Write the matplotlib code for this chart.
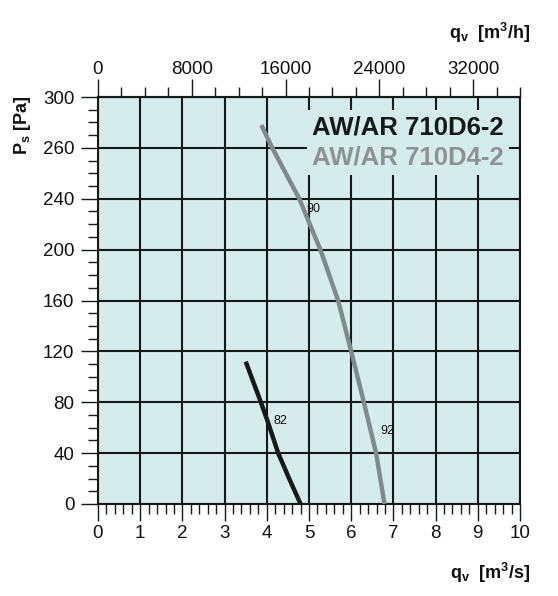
import matplotlib
matplotlib.use("Agg")
import matplotlib.pyplot as plt
from matplotlib.ticker import MultipleLocator, FixedLocator, FixedFormatter
from matplotlib.lines import Line2D

# ---- data ----
q_d6 = [3.50, 3.86, 4.02, 4.27, 4.53, 4.80]
p_d6 = [112, 80, 65, 40, 20, 0]
q_d4 = [3.87, 4.13, 4.77, 5.27, 5.69, 6.00, 6.30, 6.59, 6.79]
p_d4 = [298, 280, 240, 200, 160, 120, 80, 40, 0]
series_names = ["AW/AR 710D6-2", "AW/AR 710D4-2"]
eff_labels = ["82", "90", "92"]
eff_q = [4.33, 5.11, 6.85]
eff_p = [65, 232, 57]
y_ticks = [0, 40, 80, 120, 160, 200, 240, 280, 320]
y_tick_labels = ["0", "40", "80", "120", "160", "200", "240", "260", "300"]
x_ticks = list(range(0, 11))
top_ticks = [0, 8000, 16000, 24000, 32000]

BG = "#d5ecea"
DARK = "#141a1a"
GRAY = "#7f8b8b"
GRAYTXT = "#8b9393"

plt.rcParams["font.family"] = ["Liberation Sans", "DejaVu Sans"]
plt.rcParams["mathtext.fontset"] = "custom"
plt.rcParams["mathtext.rm"] = "Liberation Sans:bold"
plt.rcParams["mathtext.it"] = "Liberation Sans:bold"
plt.rcParams["mathtext.bf"] = "Liberation Sans:bold"

fig = plt.figure(figsize=(5.58, 5.96), dpi=100)
ax = fig.add_axes([0.1756, 0.1544, 0.9319 - 0.1756, 0.8372 - 0.1544])
ax.set_facecolor(BG)
ax.set_xlim(0, 10)
ax.set_ylim(0, 320)

ax.xaxis.set_major_locator(FixedLocator(x_ticks))
ax.xaxis.set_minor_locator(MultipleLocator(0.2))
ax.yaxis.set_major_locator(FixedLocator(y_ticks))
ax.yaxis.set_major_formatter(FixedFormatter(y_tick_labels))
ax.yaxis.set_minor_locator(MultipleLocator(10))

ax.grid(True, which="major", color=DARK, lw=1.5, zorder=1)
ax.set_axisbelow(True)
for s in ax.spines.values():
    s.set_color(DARK)
    s.set_linewidth(1.5)

ax.tick_params(axis="both", which="major", direction="out", length=12, width=1.0,
               color=DARK, labelsize=13.5, labelcolor="#111111")
ax.tick_params(axis="both", which="minor", direction="out", length=7, width=1.0, color=DARK)
ax.tick_params(axis="x", which="major", pad=3)
ax.tick_params(axis="y", which="major", pad=5)

# top axis in m3/h
sec = ax.secondary_xaxis("top", functions=(lambda q: q * 3600.0, lambda h: h / 3600.0))
sec.xaxis.set_major_locator(FixedLocator(top_ticks))
sec.xaxis.set_minor_locator(MultipleLocator(2000))
sec.tick_params(axis="x", which="major", direction="out", length=13, width=1.0,
                color=DARK, labelsize=13.5, labelcolor="#111111", pad=0.5)
sec.tick_params(axis="x", which="minor", direction="out", length=7, width=1.0, color=DARK)
sec.spines["top"].set_color(DARK)
sec.spines["top"].set_linewidth(1.5)

# curves
ax.plot(q_d4, p_d4, color=GRAY, lw=3.2, solid_capstyle="butt", zorder=4)
ax.plot(q_d6, p_d6, color=DARK, lw=3.2, solid_capstyle="butt", zorder=4)

for lab, xq, yp in zip(eff_labels, eff_q, eff_p):
    ax.text(xq, yp, lab, fontsize=9, color="#111111", ha="center", va="center",
            fontfamily=["Liberation Sans"], zorder=5)

handles = [Line2D([], [], lw=0), Line2D([], [], lw=0)]
leg = ax.legend(handles, series_names, loc="upper left", bbox_to_anchor=(0.495, 0.968),
                handlelength=0, handletextpad=0, frameon=True, facecolor=BG,
                edgecolor="none", framealpha=1.0, fancybox=False,
                prop={"family": "Liberation Sans", "weight": "bold", "size": 18.5},
                labelcolor=[DARK, GRAYTXT], borderpad=0.2, labelspacing=0.25,
                borderaxespad=0)
leg.set_zorder(6)

# axis titles
fig.text(0.877, 0.944, r"$\mathrm{q_v}$  [m$^3$/h]", fontsize=13, fontweight="bold",
         ha="center", va="center", color="#111111")
fig.text(0.878, 0.038, r"$\mathrm{q_v}$  [m$^3$/s]", fontsize=13, fontweight="bold",
         ha="center", va="center", color="#111111")
fig.text(0.04, 0.79, r"$\mathrm{P_s}$ [Pa]", fontsize=13, fontweight="bold",
         rotation=90, ha="center", va="center", color="#111111")

fig.savefig("out.png", dpi=100)
